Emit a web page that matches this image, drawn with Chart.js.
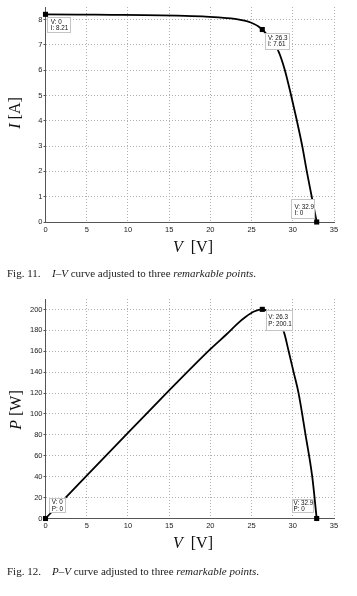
<!DOCTYPE html>
<html><head><meta charset="utf-8">
<script src="https://cdn.jsdelivr.net/npm/chart.js@4"></script>
<style>
html,body{margin:0;padding:0;background:#fff;}
#root{position:relative;width:357px;height:596px;overflow:hidden;background:#fff;}
.cv{position:absolute;left:0;}
.ytitle{position:absolute;font-family:"Liberation Serif",serif;font-size:16px;color:#111;white-space:nowrap;transform:translate(-50%,-50%) rotate(-90deg);}
.xtitle{position:absolute;font-family:"Liberation Serif",serif;font-size:16px;word-spacing:4px;color:#111;white-space:nowrap;transform:translate(-50%,-50%);}
.cap{position:absolute;left:7px;font-family:"Liberation Serif",serif;font-size:11px;color:#1a1a1a;white-space:nowrap;transform:translateY(-50%);}
.cap .fig{display:inline-block;width:45px;}
</style></head>
<body>
<div id="root">
  <canvas id="c1" class="cv" width="357" height="240" style="top:0px"></canvas>
  <canvas id="c2" class="cv" width="357" height="245" style="top:292px"></canvas>
  <div class="ytitle" style="left:15px;top:113px"><i>I</i> [A]</div>
  <div class="xtitle" style="left:193px;top:247px"><i>V</i> [V]</div>
  <div class="cap" style="top:273px"><span class="fig">Fig. 11.</span><i>I</i>–<i>V</i> curve adjusted to three <i>remarkable points</i>.</div>
  <div class="ytitle" style="left:16px;top:410px"><i>P</i> [W]</div>
  <div class="xtitle" style="left:193px;top:543px"><i>V</i> [V]</div>
  <div class="cap" style="top:571px"><span class="fig">Fig. 12.</span><i>P</i>–<i>V</i> curve adjusted to three <i>remarkable points</i>.</div>
</div>
<script>
// ---- data ----
const xTicks = [0, 5, 10, 15, 20, 25, 30, 35];
const iTicks = [0, 1, 2, 3, 4, 5, 6, 7, 8];
const pTicks = [0, 20, 40, 60, 80, 100, 120, 140, 160, 180, 200];

const ivV = [0, 4, 8, 12, 16, 19, 21, 22.5, 23.5, 24.5, 25.3, 25.8, 26.3, 27.3, 28.24, 29.0, 29.8, 30.5, 31.15, 31.7, 32.3, 32.9];
const ivI = [8.21, 8.2, 8.19, 8.18, 8.16, 8.13, 8.09, 8.05, 8.0, 7.93, 7.83, 7.74, 7.61, 7.22, 6.77, 6.05, 5.0, 4.0, 3.0, 2.0, 1.0, 0];

const pvV = [0, 2.5, 5, 10, 15, 20, 22, 23.3, 24.3, 25.3, 26.3, 27.2, 28.1, 28.9, 29.5, 30.1, 30.7, 31.55, 32.36, 32.9];
const pvP = [0, 20.5, 41, 82, 122.5, 162, 176.5, 186.5, 193, 198, 200.1, 197, 189.5, 179, 160, 140, 120, 80, 40, 0];

const remV = [0, 26.3, 32.9];
const remI = [8.21, 7.61, 0];
const remP = [0, 200.1, 0];

// ---- styling of annotation boxes (offsets relative to point pixel) ----
const ivBoxStyle = [
  {dx: 1.2, dy: 3, w: 24, h: 16, tx: 4, ty: [5.4, 11]},
  {dx: 2.3, dy: 3.6, w: 25, h: 17, tx: 3.3, ty: [5, 11]},
  {dx: -25.6, dy: -22.7, w: 24, h: 20, tx: 3.3, ty: [8, 14]}
];
const pvBoxStyle = [
  {dx: 3.5, dy: -21, w: 17, h: 15, tx: 2.7, ty: [4.5, 11.5]},
  {dx: 3.7, dy: 1.1, w: 26.5, h: 21, tx: 2.3, ty: [7, 14.2]},
  {dx: -24.3, dy: -19.5, w: 21.5, h: 13.5, tx: 1.2, ty: [3.8, 10.3]}
];

const boxPlugin = {
  id: 'boxes',
  afterDatasetDraw(chart, args, opts) {
    if (args.index !== 1) return;
    const ctx = chart.ctx, xs = chart.scales.x, ys = chart.scales.y;
    opts.items.forEach(b => {
      const px = xs.getPixelForValue(b.x), py = ys.getPixelForValue(b.y);
      const bx = px + b.dx, by = py + b.dy;
      ctx.save();
      ctx.fillStyle = '#fff';
      ctx.fillRect(bx, by, b.w, b.h);
      ctx.strokeStyle = '#c4c4c4';
      ctx.lineWidth = 1;
      ctx.strokeRect(Math.round(bx) + 0.5, Math.round(by) + 0.5, Math.round(b.w) - 1, Math.round(b.h) - 1);
      ctx.fillStyle = '#111';
      ctx.font = '6.3px "Liberation Sans", Arial, sans-serif';
      ctx.textBaseline = 'middle';
      ctx.textAlign = 'left';
      b.lines.forEach((t, i) => ctx.fillText(t, bx + b.tx, by + b.ty[i]));
      ctx.restore();
    });
  }
};

function makeChart(id, lx, ly, ry, yMax, yTicks, yLetter, boxStyle, xH) {
  const items = remV.map((v, i) => Object.assign({
    x: v, y: ry[i], lines: ['V: ' + v, yLetter + ': ' + ry[i]]
  }, boxStyle[i]));
  const tickFont = {family: '"Liberation Sans", Arial, sans-serif', size: 7.5};
  new Chart(document.getElementById(id), {
    type: 'scatter',
    data: {
      datasets: [
        {
          data: remV.map((v, i) => ({x: v, y: ry[i]})),
          showLine: false, pointStyle: 'rect', pointRadius: 3.6,
          backgroundColor: '#000', borderColor: '#000', borderWidth: 0, clip: false
        },
        {
          data: lx.map((v, i) => ({x: v, y: ly[i]})),
          showLine: true, pointRadius: 0, borderColor: '#000', borderWidth: 1.8,
          cubicInterpolationMode: 'monotone', fill: false, clip: false
        }
      ]
    },
    options: {
      responsive: false, animation: false,
      layout: {padding: {left: 0, right: 23, top: 7, bottom: 0}},
      plugins: {legend: {display: false}, tooltip: {enabled: false}, boxes: {items}},
      scales: {
        x: {
          type: 'linear', min: 0, max: 35,
          afterBuildTicks: s => { s.ticks = xTicks.map(v => ({value: v})); },
          afterFit: s => { s.height = xH; },
          ticks: {font: tickFont, color: '#222', padding: 3, maxRotation: 0, autoSkip: false},
          grid: {color: '#b0b0b0', lineWidth: 1, drawTicks: false},
          border: {display: true, color: '#555', width: 1, dash: [1, 2]}
        },
        y: {
          type: 'linear', min: 0, max: yMax,
          afterBuildTicks: s => { s.ticks = yTicks.map(v => ({value: v})); },
          afterFit: s => { s.width = 45.5; },
          ticks: {font: tickFont, color: '#222', padding: 1, autoSkip: false},
          grid: {color: '#b0b0b0', lineWidth: 1, drawTicks: true, tickLength: 2, tickColor: '#555'},
          border: {display: true, color: '#555', width: 1, dash: [1, 2]}
        }
      }
    },
    plugins: [boxPlugin]
  });
}

makeChart('c1', ivV, ivI, remI, 8.5, iTicks, 'I', ivBoxStyle, 18);
makeChart('c2', pvV, pvP, remP, 210, pTicks, 'P', pvBoxStyle, 18.5);
</script>
</body></html>
